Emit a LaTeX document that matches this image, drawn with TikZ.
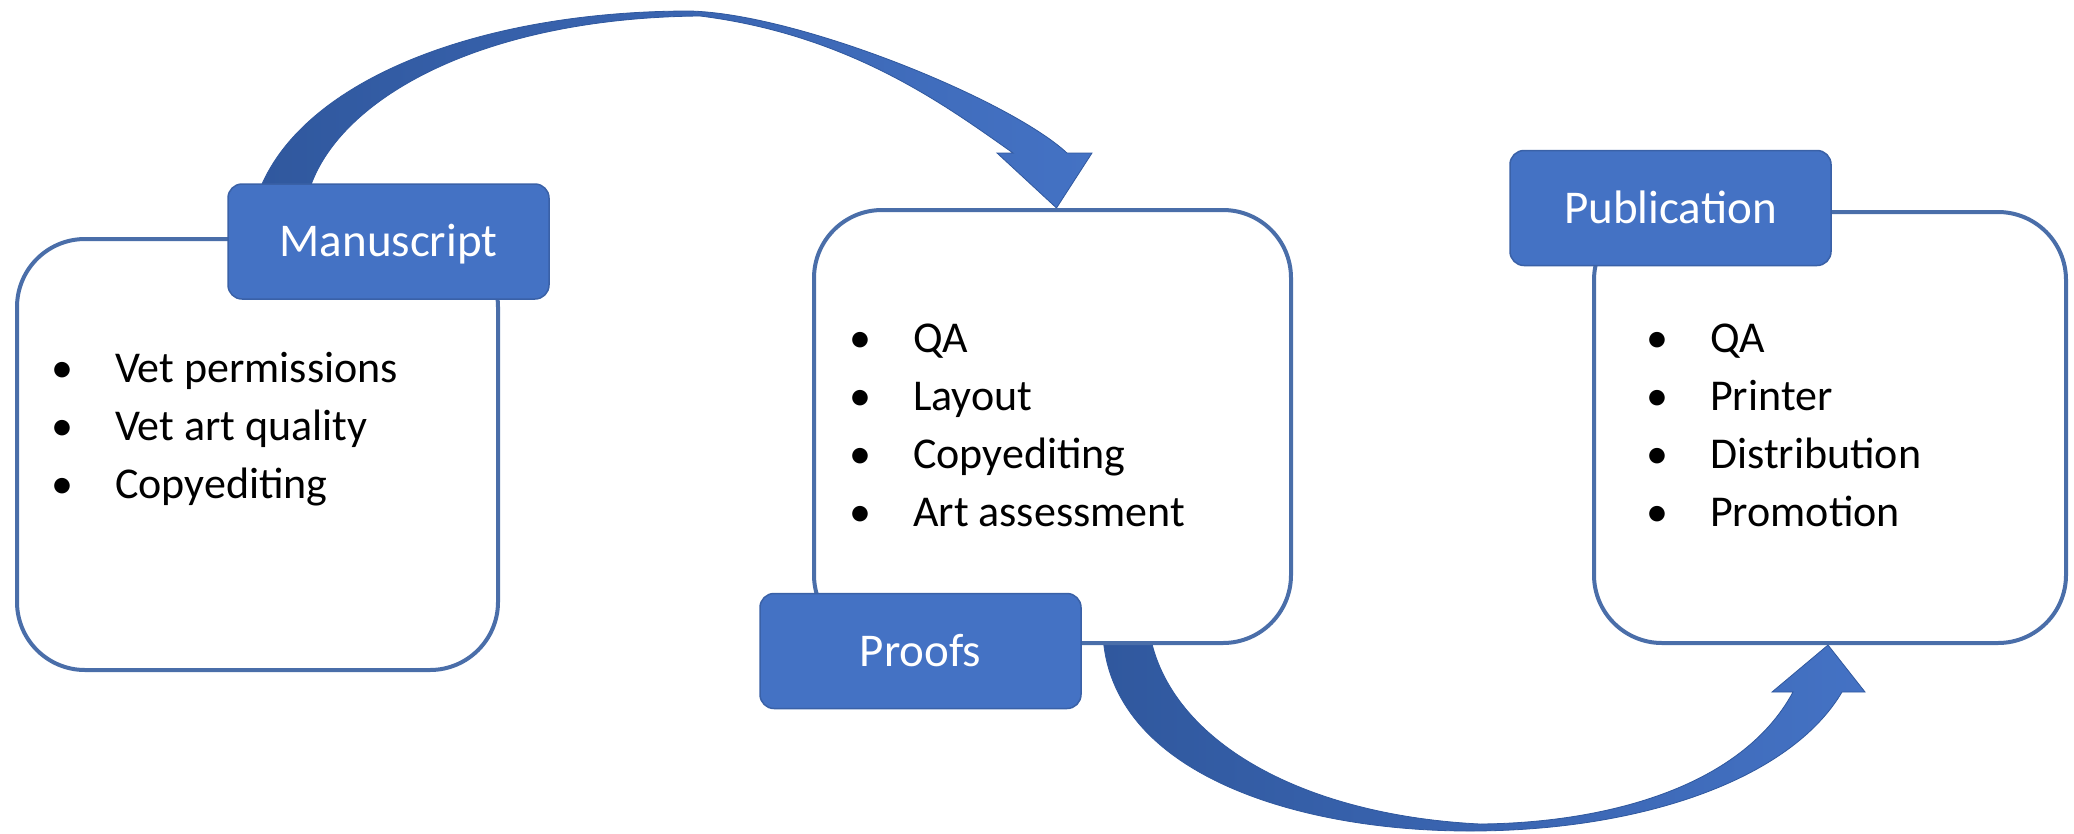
\documentclass[tikz,border=0pt]{standalone}
\usepackage{fontspec}
\setmainfont{Carlito}
\usetikzlibrary{backgrounds}
\definecolor{tabblue}{HTML}{4472C4}
\definecolor{edgeblue}{HTML}{4A6EA9}
\definecolor{arrowdark}{HTML}{30589E}
\newcommand{\itemdot}[1]{\makebox[64pt][l]{\textbullet}#1}
\begin{document}
\begin{tikzpicture}[x=1pt, y=-1pt,
		panel/.style={draw=edgeblue, line width=4pt, rounded corners=68pt, fill=white},
		tab/.style={draw=tabblue!85!black, line width=1.5pt, fill=tabblue, rounded corners=14pt, text=white,
			font=\fontsize{47}{56}\selectfont, minimum width=321pt, minimum height=115pt, text height=30pt, text depth=0pt},
		items/.style={align=left, inner sep=0pt, anchor=base west, font=\fontsize{44}{58}\selectfont},
		flowarrow/.style={left color=arrowdark, right color=tabblue, draw=arrowdark, line width=0.8pt}]
	\useasboundingbox (0,0) rectangle (2074,833);
	
	% 三个框
	\node[panel, minimum width=481pt, minimum height=431pt] (manbox) at (257.5,454.5) {};
	\node[panel, minimum width=477pt, minimum height=433pt] (probox) at (1052.5,426.5) {};
	\node[panel, minimum width=472pt, minimum height=431pt] (pubbox) at (1830,427.5) {};
	
	% 标签
	\node[tab] (mantab) at (388.5,241.5) {Manuscript};
	\node[tab] (protab) at (920.5,651) {Proofs};
	\node[tab] (pubtab) at (1670.5,208) {Publication};
	
	% 列表（基线在最后一行）
	\node[items] (manlist) at (51,498) {\itemdot{Vet permissions}\\ \itemdot{Vet art quality}\\ \itemdot{Copyediting}};
	\node[items] (prolist) at (849,526) {\itemdot{QA}\\ \itemdot{Layout}\\ \itemdot{Copyediting}\\ \itemdot{Art assessment}};
	\node[items] (publist) at (1646,526) {\itemdot{QA}\\ \itemdot{Printer}\\ \itemdot{Distribution}\\ \itemdot{Promotion}};
	
	% 弯箭头
	\coordinate (topstart) at ([xshift=31pt, yshift=-10pt]mantab.north west);
	\coordinate (topend) at ([xshift=4pt]probox.north);
	\coordinate (lowstart) at ([xshift=-190pt, yshift=10pt]probox.south east);
	\coordinate (lowend) at ([xshift=-2pt]pubbox.south);
	\begin{scope}[on background layer]
		\shadedraw[flowarrow] (topstart) .. controls (300,80) and (480,11) .. (690,11)
			.. controls (800,14) and (1010,100) .. (1067,153)
			-- (1092,153) -- (topend) -- (997,153) -- (1013,153)
			.. controls (945,105) and (850,35) .. (700,16)
			.. controls (480,18) and (335,100) .. ([xshift=50pt]topstart) -- cycle;
		\shadedraw[flowarrow] (lowstart) .. controls (1110,770) and (1290,831) .. (1470,831)
			.. controls (1640,831) and (1790,780) .. (1842,692)
			-- (1865,692) -- (lowend) -- (1772,692) -- (1793,692)
			.. controls (1740,790) and (1600,823) .. (1480,824)
			.. controls (1300,815) and (1170,740) .. ([xshift=47pt]lowstart) -- cycle;
	\end{scope}
\end{tikzpicture}
\end{document}
